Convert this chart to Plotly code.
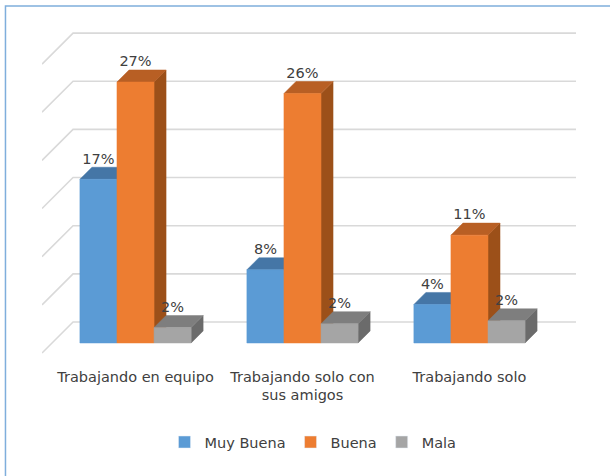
import plotly.graph_objects as go

# datos del gráfico
categorias = ["Trabajando en equipo", "Trabajando solo con<br>sus amigos", "Trabajando solo"]
series = ["Muy Buena", "Buena", "Mala"]
muy_buena = [17.0, 7.6, 4.0]
buena = [27.1, 25.9, 11.2]
mala = [1.6, 2.0, 2.3]
ticks = [0, 5, 10, 15, 20, 25, 30]

valores = [muy_buena, buena, mala]
colores = [
    ("#5B9BD5", "#4576A6", "#3E6A95"),   # frente, arriba, lado
    ("#ED7D31", "#B85F24", "#9C5019"),
    ("#A5A5A5", "#7E7E7E", "#6B6B6B"),
]

# geometria del efecto 3D (unidades de datos)
ANCHO = 0.222
DX = 0.072
DY = 1.25
PARED = 2.18
X_MIN, X_MAX = -0.56, 2.638
Y_MIN, Y_MAX = -1.246, 32.5
X_PARED = -0.374
FONDO_FRONTAL = -1.04
FUENTE = "DejaVu Sans"

fig = go.Figure()

# lineas de la pared (lateral + fondo)
for t in ticks:
    fig.add_trace(go.Scatter(
        x=[X_MIN, X_PARED, X_MAX], y=[t + FONDO_FRONTAL, t + PARED, t + PARED],
        mode="lines", line=dict(color="#D9D9D9", width=1.6),
        hoverinfo="skip", showlegend=False))

# barras
lx, ly, lt = [], [], []
for i in range(len(categorias)):
    for j in range(len(series)):
        v = valores[j][i]
        xc = i + (j - 1) * ANCHO
        izq, der = xc - ANCHO / 2, xc + ANCHO / 2
        frente, arriba, lado = colores[j]
        caras = [
            ([der, der + DX, der + DX, der, der], [0, DY, v + DY, v, 0], lado),
            ([izq, izq + DX, der + DX, der, izq], [v, v + DY, v + DY, v, v], arriba),
            ([izq, der, der, izq, izq], [0, 0, v, v, 0], frente),
        ]
        for cx, cy, col in caras:
            fig.add_trace(go.Scatter(
                x=cx, y=cy, fill="toself", fillcolor=col, mode="lines",
                line=dict(color=col, width=0.5),
                hoverinfo="skip", showlegend=False))
        lx.append(xc)
        ly.append(v + DY)
        lt.append(f"{round(v)}%")

fig.add_trace(go.Scatter(
    x=lx, y=ly, text=lt, mode="text", textposition="top center",
    textfont=dict(family=FUENTE, size=14.5, color="#404040"),
    hoverinfo="skip", showlegend=False))

# entradas de la leyenda
for j, nombre in enumerate(series):
    fig.add_trace(go.Bar(x=[None], y=[None], name=nombre, marker_color=colores[j][0]))

fig.update_layout(
    width=610, height=476,
    margin=dict(l=42, r=34, t=30, b=121),
    paper_bgcolor="white", plot_bgcolor="white",
    font=dict(family=FUENTE, size=14.5, color="#404040"),
    xaxis=dict(range=[X_MIN, X_MAX], tickvals=[0, 1, 2], ticktext=categorias,
               showgrid=False, zeroline=False, showline=False, ticks="",
               ticklabelstandoff=11, tickfont=dict(size=14.5, color="#404040")),
    yaxis=dict(range=[Y_MIN, Y_MAX], showgrid=False, zeroline=False,
               showticklabels=False, showline=False),
    legend=dict(orientation="h", x=0.5075, xanchor="center", y=-0.268, yanchor="middle",
                itemwidth=30, font=dict(size=14.5, color="#404040"), traceorder="normal"),
    shapes=[dict(type="rect", xref="paper", yref="paper",
                 x0=-0.0684, x1=2, y0=-2, y1=1.0738,
                 line=dict(color="#7FAEDC", width=1.5))],
    showlegend=True,
)

fig.write_html("out.html", config={"displayModeBar": False},
               post_script="document.body.style.margin = '0';")
